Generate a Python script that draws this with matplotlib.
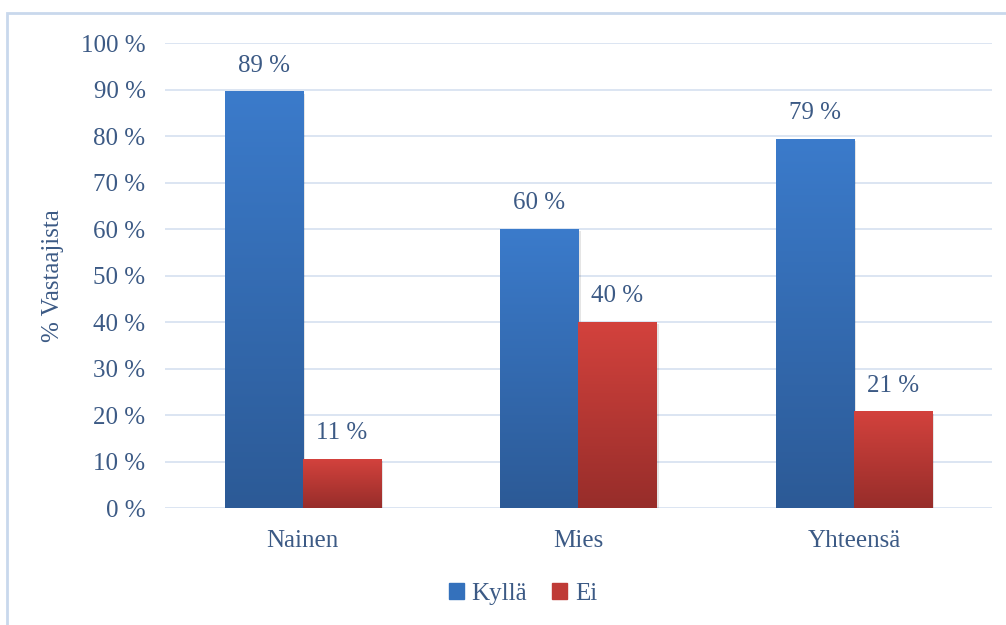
import numpy as np
import matplotlib.pyplot as plt
from matplotlib.colors import LinearSegmentedColormap
from matplotlib.patches import Rectangle

categories = ['Nainen', 'Mies', 'Yhteensä']
kylla = [89.47, 60.0, 79.3]
ei = [10.53, 40.0, 20.7]
series_names = ['Kyllä', 'Ei']
yticks = [0, 10, 20, 30, 40, 50, 60, 70, 80, 90, 100]

txt = '#3C5A85'
plt.rcParams['font.family'] = ['Liberation Serif', 'DejaVu Serif']

fig = plt.figure(figsize=(10.06, 6.25), dpi=100)
ax = fig.add_axes([0.164, 0.187, 0.822, 0.744])

blue_cm = LinearSegmentedColormap.from_list('b', ['#2C5A96', '#3B7BCB'])
red_cm = LinearSegmentedColormap.from_list('r', ['#972D2A', '#D3423D'])

x = np.arange(len(categories))
w = 0.283

def grad_bars(xs, vals, cmap, label):
    bars = ax.bar(xs, vals, w, color='none', edgecolor='none', label=label, zorder=3)
    for b in bars:
        bx, by = b.get_x(), b.get_y()
        bw, bh = b.get_width(), b.get_height()
        # soft shadow
        ax.add_patch(Rectangle((bx + 0.008, by - 0.4), bw, bh, color='#000000',
                               alpha=0.10, zorder=2, lw=0))
        grad = np.linspace(0, 1, 256).reshape(-1, 1)
        ax.imshow(grad, cmap=cmap, origin='lower', aspect='auto',
                  extent=[bx, bx + bw, by, by + bh], zorder=3)
    return bars

grad_bars(x - w / 2, kylla, blue_cm, series_names[0])
grad_bars(x + w / 2, ei, red_cm, series_names[1])

for xs, vals in [(x - w / 2, kylla), (x + w / 2, ei)]:
    for xi, v in zip(xs, vals):
        ax.text(xi, v + 3.3, f'{round(v):d} %', ha='center', va='bottom',
                fontsize=18, color=txt)

ax.set_xlim(-0.5, len(categories) - 0.5)
ax.set_ylim(0, 100)
ax.set_yticks(yticks)
ax.set_yticklabels([f'{t} %' for t in yticks])
ax.set_xticks(x)
ax.set_xticklabels(categories)
ax.tick_params(axis='both', length=0, labelsize=18, labelcolor=txt)
ax.tick_params(axis='y', pad=14)
ax.tick_params(axis='x', pad=16)
ax.grid(axis='y', color='#D6E0F0', lw=1.2, zorder=0)
ax.set_axisbelow(True)
for s in ax.spines.values():
    s.set_visible(False)
ax.set_ylabel('% Vastaajista', fontsize=18, color=txt, labelpad=12)

handles = [Rectangle((0, 0), 1, 1, color='#3471BC'), Rectangle((0, 0), 1, 1, color='#BF3A36')]
fig.legend(handles, series_names, loc='center', bbox_to_anchor=(0.52, 0.05), ncol=2,
           frameon=False, fontsize=18, labelcolor=txt, handlelength=0.6,
           handleheight=0.6, handletextpad=0.3, columnspacing=1.0)

fig.patches.append(Rectangle((7 / 1006, -0.1), 1.2, 1 - 13 / 625 + 0.1, transform=fig.transFigure,
                             fill=False, edgecolor='#C9D8EC', lw=2))

fig.savefig('out.png', dpi=100)
